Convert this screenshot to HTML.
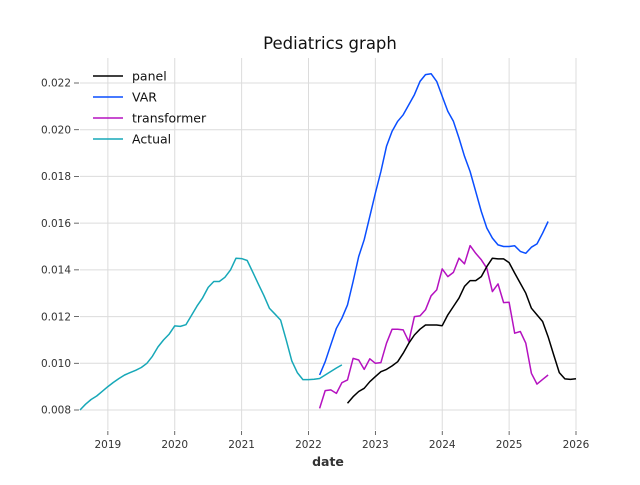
<!DOCTYPE html>
<html><head><meta charset="utf-8"><style>
body{margin:0;background:#fff;font-family:"Liberation Sans","DejaVu Sans",sans-serif}
svg text{font-family:"DejaVu Sans","Liberation Sans",sans-serif}
</style></head><body>
<svg id="chart" width="640" height="480" viewBox="0 0 640 480" xmlns="http://www.w3.org/2000/svg">
<rect width="640" height="480" fill="#fff"/>
<g id="grid"></g><g id="axes"></g><g id="series"></g><g id="legend"></g>
<text x="330" y="49" text-anchor="middle" font-size="16.5" fill="#111">Pediatrics graph</text>
<text x="328" y="466" text-anchor="middle" font-size="12.5" font-weight="bold" fill="#333">date</text>
</svg>
<script>
const xTicks=[2019,2020,2021,2022,2023,2024,2025,2026];
const yTicks=[0.008,0.010,0.012,0.014,0.016,0.018,0.020,0.022];
const actualStart=[2018,8];
const actualVals=[.00800,.00825,.00845,.00860,.00880,.00900,.00918,.00935,.00950,.00960,.00970,.00982,.01000,.01030,.01070,.01100,.01125,.01160,.01158,.01165,.01205,.01245,.01280,.01325,.01350,.01350,.01368,.01400,.01450,.01448,.01440,.01390,.01340,.01290,.01235,.01210,.01185,.01100,.01010,.00960,.00930,.00930,.00932,.00935,.00950,.00965,.00980,.00993];
const varStart=[2022,3];
const varVals=[.00950,.01007,.01079,.01150,.01193,.01250,.01350,.01457,.01529,.01629,.01729,.01821,.01929,.01993,.02036,.02064,.02107,.02150,.02207,.02236,.02240,.02207,.02143,.02079,.02036,.01964,.01886,.01821,.01736,.01650,.01579,.01536,.01507,.01500,.01500,.01503,.01479,.01471,.01497,.01511,.01557,.01607];
const transStart=[2022,3];
const transVals=[.00807,.00883,.00886,.00871,.00917,.00929,.01021,.01014,.00974,.01019,.01000,.01003,.01086,.01146,.01146,.01143,.01093,.01200,.01203,.01229,.01289,.01314,.01404,.01371,.01389,.01450,.01426,.01504,.01471,.01443,.01407,.01307,.01340,.01260,.01261,.01129,.01136,.01086,.00957,.00911,.00931,.00950];
const panelStart=[2022,8];
const panelVals=[.00829,.00857,.00879,.00893,.00921,.00943,.00964,.00974,.00989,.01007,.01043,.01086,.01121,.01146,.01164,.01164,.01164,.01161,.01207,.01243,.01279,.01329,.01354,.01354,.01371,.01414,.01450,.01447,.01447,.01431,.01386,.01343,.01300,.01236,.01207,.01179,.01114,.01036,.00960,.00933,.00931,.00934];

const NS="http://www.w3.org/2000/svg";
const PL=80,PR=576,PT=58,PB=430;
const X0=2018+7/12,X1=2026;
const sx=t=>PL+(t-X0)/(X1-X0)*(PR-PL);
const sy=v=>410-(v-0.008)/0.014*(410-83);
function mk(tag,parent,attrs){const e=document.createElementNS(NS,tag);for(const k in attrs)e.setAttribute(k,attrs[k]);parent.appendChild(e);return e;}
const grid=document.getElementById('grid'),axes=document.getElementById('axes');
xTicks.forEach(t=>{
  const x=sx(t);
  const l=mk('line',grid,{x1:x,x2:x,y1:PT,y2:PB,stroke:'#dcdcdc','stroke-width':1});
  
  
  const tk=mk('line',axes,{x1:x,x2:x,y1:PB+1,y2:PB+5,stroke:'#444','stroke-width':0.8});
  
  
  const tx=mk('text',axes,{x:x,y:PB+18,'text-anchor':'middle','font-size':10.5,fill:'#333'});
  tx.textContent=t;
  
  
});
yTicks.forEach(v=>{
  const y=sy(v);
  const l=mk('line',grid,{x1:PL,x2:PR,y1:y,y2:y,stroke:'#dcdcdc','stroke-width':1});
  
  
  const tk=mk('line',axes,{x1:PL-6,x2:PL-1,y1:y,y2:y,stroke:'#444','stroke-width':0.8});
  
  
  const tx=mk('text',axes,{x:PL-9,y:y+3.7,'text-anchor':'end','font-size':10.5,fill:'#333'});
  tx.textContent=v.toFixed(3);
  
  
});
const ser=document.getElementById('series');
function draw(start,vals,color,name){
  const pts=vals.map((v,i)=>{const t=start[0]+(start[1]-1+i)/12;return sx(t).toFixed(1)+','+sy(v).toFixed(1);}).join(' ');
  const p=mk('polyline',ser,{points:pts,fill:'none',stroke:color,'stroke-width':1.5,'stroke-linejoin':'round'});
  
  
}
draw(actualStart,actualVals,'#17a8b8','actual-line');
draw(varStart,varVals,'#0a4eff','var-line');
draw(transStart,transVals,'#b512c0','transformer-line');
draw(panelStart,panelVals,'#000','panel-line');
const leg=document.getElementById('legend');
[['panel','#000'],['VAR','#0a4eff'],['transformer','#b512c0'],['Actual','#17a8b8']].forEach((d,i)=>{
  const y=76+i*21;
  const g=mk('g',leg,{});
  
  
  mk('line',g,{x1:93,x2:123,y1:y,y2:y,stroke:d[1],'stroke-width':1.5});
  const t=mk('text',g,{x:132,y:y+4.5,'font-size':12.5,fill:'#111'});
  t.textContent=d[0];
});
</script>
</body></html>
